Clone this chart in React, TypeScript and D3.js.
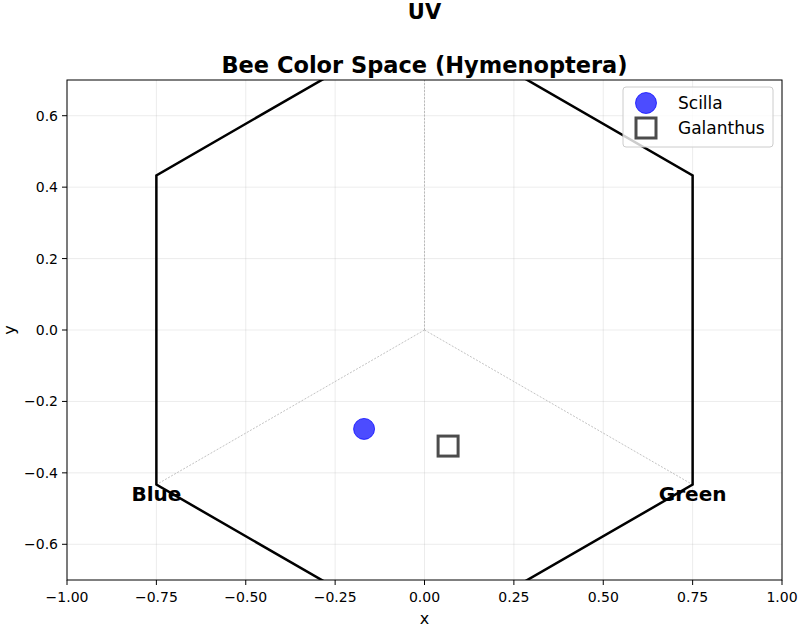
import * as d3 from "d3";
import React from "react";

const xTicks = [-1, -0.75, -0.5, -0.25, 0, 0.25, 0.5, 0.75, 1];
const yTicks = [-0.6, -0.4, -0.2, 0, 0.2, 0.4, 0.6];
const hexagon: [number, number][] = [
  [0, 0.866], [0.75, 0.433], [0.75, -0.433], [0, -0.866], [-0.75, -0.433], [-0.75, 0.433],
];
const receptors = [
  { name: "UV", x: 0, y: 0.866, lx: 0, ly: 0.89 },
  { name: "Blue", x: -0.75, y: -0.433, lx: -0.75, ly: -0.46 },
  { name: "Green", x: 0.75, y: -0.433, lx: 0.75, ly: -0.46 },
];
const flowers = [
  { name: "Scilla", x: -0.169, y: -0.277, shape: "circle" },
  { name: "Galanthus", x: 0.066, y: -0.325, shape: "square" },
];

const W = 799, H = 628;
const margin = { left: 67, right: 17, top: 80, bottom: 48 };
const font = "DejaVu Sans, sans-serif";

export default function App() {
  const x = d3.scaleLinear().domain([-1, 1]).range([margin.left, W - margin.right]);
  const y = d3.scaleLinear().domain([-0.7, 0.7]).range([H - margin.bottom, margin.top]);
  const fmtX = d3.format(".2f");
  const fmtY = d3.format(".1f");
  const minus = (s: string) => s.replace("-", "\u2212");
  const line = d3.line<[number, number]>().x(d => x(d[0])).y(d => y(d[1])).curve(d3.curveLinearClosed);
  const origin = [x(0), y(0)];

  const marker = (shape: string, cx: number, cy: number) =>
    shape === "circle" ? (
      <circle cx={cx} cy={cy} r={10.5} fill="#0000ff" fillOpacity={0.7} stroke="#0000ff" strokeOpacity={0.7} strokeWidth={1} />
    ) : (
      <rect x={cx - 10} y={cy - 10} width={20} height={20} fill="white" stroke="#000" strokeOpacity={0.7} strokeWidth={3} />
    );

  return (
    <svg width={W} height={H} style={{ position: "absolute", left: 0, top: 0, fontFamily: font }}>
      <rect width={W} height={H} fill="white" />
      <defs>
        <clipPath id="plot">
          <rect x={margin.left} y={margin.top} width={W - margin.left - margin.right} height={H - margin.top - margin.bottom} />
        </clipPath>
      </defs>
      {/* grid */}
      {xTicks.map(t => (
        <line key={"gx" + t} x1={x(t)} x2={x(t)} y1={margin.top} y2={H - margin.bottom} stroke="#b0b0b0" strokeOpacity={0.3} strokeWidth={0.8} />
      ))}
      {yTicks.map(t => (
        <line key={"gy" + t} y1={y(t)} y2={y(t)} x1={margin.left} x2={W - margin.right} stroke="#b0b0b0" strokeOpacity={0.3} strokeWidth={0.8} />
      ))}
      <g clipPath="url(#plot)">
        {receptors.map(r => (
          <line key={"r" + r.name} x1={origin[0]} y1={origin[1]} x2={x(r.x)} y2={y(r.y)} stroke="#999" strokeWidth={0.6} strokeDasharray="2,1.5" />
        ))}
        <path d={line(hexagon) ?? ""} fill="none" stroke="black" strokeWidth={2.5} />
        {flowers.map(f => <g key={f.name}>{marker(f.shape, x(f.x), y(f.y))}</g>)}
      </g>
      {receptors.map(r => (
        <text key={"l" + r.name} x={x(r.lx)} y={y(r.ly)} textAnchor="middle" dominantBaseline="central" fontSize={r.name === "UV" ? 21 : 20} fontWeight="bold">{r.name}</text>
      ))}
      {/* axes frame */}
      <rect x={margin.left} y={margin.top} width={W - margin.left - margin.right} height={H - margin.top - margin.bottom} fill="none" stroke="black" strokeWidth={1} />
      {xTicks.map(t => (
        <g key={"tx" + t}>
          <line x1={x(t)} x2={x(t)} y1={H - margin.bottom} y2={H - margin.bottom + 5} stroke="black" />
          <text x={x(t)} y={H - margin.bottom + 22} textAnchor="middle" fontSize={14}>{minus(fmtX(t))}</text>
        </g>
      ))}
      {yTicks.map(t => (
        <g key={"ty" + t}>
          <line x1={margin.left - 5} x2={margin.left} y1={y(t)} y2={y(t)} stroke="black" />
          <text x={margin.left - 9} y={y(t)} textAnchor="end" dominantBaseline="central" fontSize={14}>{minus(fmtY(t))}</text>
        </g>
      ))}
      <text x={x(0)} y={H - 4} textAnchor="middle" fontSize={16}>x</text>
      <text transform={`translate(15,${y(0)}) rotate(-90)`} textAnchor="middle" fontSize={16}>y</text>
      <text x={x(0)} y={73} textAnchor="middle" fontSize={22.5} fontWeight="bold">Bee Color Space (Hymenoptera)</text>
      {/* legend */}
      <g transform={`translate(${W - margin.right - 159},${margin.top + 7})`}>
        <rect x={0} y={0} width={150} height={60} rx={3} fill="white" fillOpacity={0.8} stroke="#ccc" />
        {flowers.map((f, i) => (
          <g key={"lg" + f.name}>
            {marker(f.shape, 23, 16 + i * 25)}
            <text x={55} y={16 + i * 25} dominantBaseline="central" fontSize={17}>{f.name}</text>
          </g>
        ))}
      </g>
    </svg>
  );
}
